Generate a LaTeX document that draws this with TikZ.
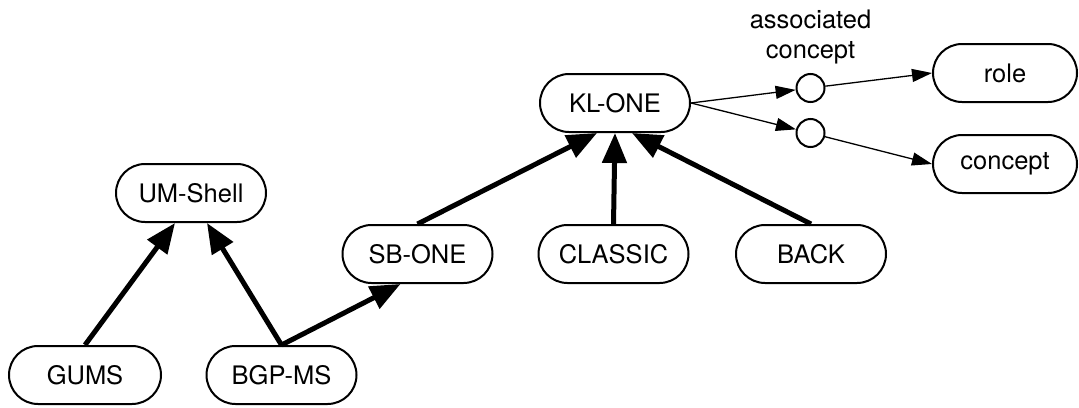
\documentclass[tikz,border=0pt]{standalone}
\usepackage{fontspec}
\setmainfont{TeX Gyre Heros}
\usetikzlibrary{arrows.meta}

\begin{document}
\begin{tikzpicture}[x=1pt, y=-1pt,
  every node/.style={font=\fontsize{25.5}{30}\selectfont},
  sysbox/.style={draw, line width=2pt, rectangle, rounded corners=29pt,
    minimum height=58pt, minimum width=150pt, inner sep=0pt},
  slot/.style={draw, line width=2pt, circle, minimum size=28pt, inner sep=0pt},
  isa/.style={line width=5pt, -{Triangle[length=30pt, width=24pt]}},
  link/.style={line width=1.3pt, -{Triangle[length=20pt, width=13pt]}}]

\useasboundingbox[fill=white] (0,0) rectangle (1079,407);

% systems and their ancestry
\node[sysbox] (um)    at (191,193)   {UM-Shell};
\node[sysbox, minimum width=152pt] (gums)  at (85,375)    {GUMS};
\node[sysbox] (bgp)   at (281.5,375) {BGP-MS};
\node[sysbox] (sb)    at (417.5,254) {SB-ONE};
\node[sysbox] (kl)    at (615,103)   {KL-ONE};
\node[sysbox] (cl)    at (613.5,254) {CLASSIC};
\node[sysbox] (back)  at (811,254)   {BACK};

% KL-ONE primitives
\node[sysbox, minimum width=144pt] (role)    at (1005,73)  {role};
\node[sysbox, minimum width=144pt] (concept) at (1005,164) {concept};
\node[slot] (c1) at (810.5,88) {};
\node[slot] (c2) at (810.5,133) {};
\node[align=center, inner sep=0pt] (assoc) at (810.5,36.5) {associated\\concept};

% inheritance arrows
\draw[isa] (gums.north) -- ([xshift=-16pt]um.south);
\draw[isa] (bgp.north)  -- ([xshift=16pt]um.south);
\draw[isa] (bgp.north)  -- ([xshift=-17pt]sb.south);
\draw[isa] (sb.north)   -- ([xshift=-18pt]kl.south);
\draw[isa] (cl.north)   -- (kl.south);
\draw[isa] (back.north) -- ([xshift=17pt]kl.south);

% role / concept links
\draw[link] (kl.east) -- (c1);
\draw[link] (kl.east) -- (c2);
\draw[link] (c1) -- (role.west);
\draw[link] (c2) -- (concept.west);
\end{tikzpicture}
\end{document}
